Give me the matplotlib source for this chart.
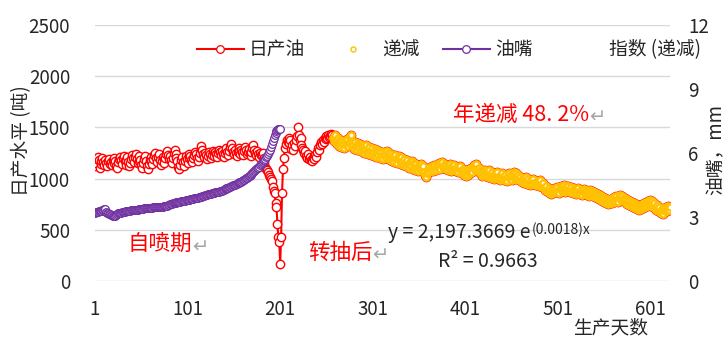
import numpy as np
import matplotlib
matplotlib.use("Agg")
import matplotlib.pyplot as plt
from matplotlib.lines import Line2D

plt.rcParams["font.family"] = ["Noto Sans CJK SC", "DejaVu Sans"]
plt.rcParams["axes.unicode_minus"] = False

# 日产油（吨），第 1 天起逐日读数
oil = [
    1120, 1150, 1190, 1210, 1180, 1100, 1140, 1170, 1200, 1160, 1130, 1180, 1150, 1120, 1170, 1190, 1140, 1160, 1130, 1180,
    1200, 1150, 1170, 1120, 1100, 1160, 1190, 1210, 1180, 1140, 1200, 1220, 1170, 1130, 1180, 1210, 1160, 1120, 1150, 1190,
    1230, 1200, 1160, 1210, 1240, 1190, 1150, 1170, 1220, 1180, 1130, 1100, 1150, 1190, 1220, 1170, 1120, 1090, 1140, 1180,
    1210, 1170, 1140, 1190, 1230, 1250, 1200, 1160, 1210, 1240, 1180, 1130, 1170, 1210, 1190, 1150, 1200, 1240, 1270, 1230,
    1190, 1220, 1180, 1150, 1200, 1250, 1280, 1240, 1200, 1170, 1110, 1090, 1130, 1180, 1210, 1160, 1120, 1170, 1220, 1190,
    1150, 1200, 1240, 1220, 1180, 1160, 1200, 1230, 1260, 1240, 1200, 1170, 1210, 1250, 1290, 1320, 1280, 1240, 1210, 1250,
    1230, 1190, 1220, 1260, 1240, 1200, 1230, 1270, 1250, 1220, 1260, 1240, 1210, 1250, 1280, 1260, 1230, 1270, 1240, 1210,
    1250, 1280, 1300, 1260, 1230, 1270, 1310, 1340, 1300, 1260, 1240, 1280, 1250, 1220, 1260, 1300, 1270, 1240, 1280, 1260,
    1230, 1270, 1310, 1280, 1240, 1260, 1290, 1250, 1220, 1260, 1300, 1330, 1280, 1250, 1230, 1270, 1240, 1210, 1250, 1230,
    # 转抽前后的停产段
    1230, 1250, 1200, 1160, 1110, 1090, 1080, 1060, 1040, 1020, 1000, 980, 920, 880, 860, 760, 720, 560, 430, 380,
    165, 430, 860, 1090, 1200,
    1300, 1340, 1380, 1360, 1400, 1350, 1380, 1290, 1330, 1280, 1350, 1320, 1380, 1420, 1500, 1430, 1380, 1400, 1330, 1300,
    1280, 1250, 1270, 1220, 1200, 1240, 1190, 1210, 1180, 1170, 1200, 1220, 1190, 1230, 1210, 1260, 1300, 1280, 1330, 1360,
    1340, 1380, 1360, 1400, 1390, 1420, 1400, 1430, 1410, 1420, 1440, 1430,
    # 递减段（第 258 天起）
    1400, 1370, 1430, 1360, 1340, 1400, 1350, 1320, 1380, 1310, 1370, 1340, 1300, 1370, 1330, 1390, 1320, 1350, 1410, 1350,
    1430, 1360, 1330, 1290, 1360, 1310, 1280, 1350, 1300, 1340, 1270, 1330, 1290, 1250, 1320, 1280, 1330, 1260, 1240, 1310,
    1260, 1230, 1300, 1250, 1220, 1290, 1240, 1210, 1280, 1230, 1270, 1200, 1260, 1220, 1190, 1260, 1230, 1200, 1270, 1220,
    1190, 1250, 1180, 1240, 1170, 1220, 1160, 1230, 1190, 1150, 1200, 1220, 1170, 1140, 1210, 1160, 1130, 1190, 1150, 1120,
    1180, 1130, 1100, 1160, 1120, 1170, 1090, 1150, 1110, 1080, 1140, 1100, 1070, 1130, 1090, 1140, 1070, 1120, 1060, 1040,
    1030, 1020, 1050, 1090, 1060, 1110, 1080, 1120, 1070, 1130, 1090, 1080, 1130, 1100, 1150, 1110, 1090, 1140, 1160, 1110,
    1100, 1140, 1090, 1130, 1080, 1120, 1140, 1090, 1070, 1120, 1080, 1130, 1090, 1070, 1110, 1060, 1100, 1120, 1070, 1050,
    1090, 1040, 1080, 1050, 1030, 1080, 1040, 1090, 1050, 1100, 1060, 1110, 1130, 1080, 1120, 1140, 1090, 1070, 1100, 1050,
    1080, 1030, 1070, 1040, 1080, 1030, 1070, 1020, 1060, 1080, 1030, 1010, 1060, 1020, 1000, 1050, 1010, 1060, 1020, 1000,
    990, 1040, 1000, 1050, 1010, 990, 1040, 1000, 980, 1030, 1050, 1000, 1040, 990, 1030, 1060, 1020, 1000, 1050, 1010,
    1040, 990, 1020, 980, 970, 1010, 960, 1000, 1020, 970, 950, 1000, 960, 940, 990, 950, 1000, 960, 940, 970,
    940, 980, 930, 970, 990, 940, 920, 960, 910, 890, 930, 880, 870, 910, 860, 850, 890, 860, 900, 870,
    910, 870, 920, 880, 860, 910, 930, 880, 920, 940, 890, 870, 920, 880, 930, 890, 870, 920, 880, 860,
    910, 870, 850, 900, 860, 910, 870, 850, 890, 840, 880, 900, 850, 890, 840, 880, 830, 870, 890, 840,
    880, 830, 870, 820, 860, 810, 850, 800, 840, 790, 830, 780, 820, 770, 810, 760, 800, 750, 790, 760,
    800, 760, 810, 770, 820, 780, 830, 790, 770, 820, 840, 790, 830, 800, 780, 810, 760, 800, 750, 790,
    740, 780, 730, 770, 720, 760, 710, 750, 700, 740, 730, 690, 740, 700, 750, 710, 760, 720, 770, 730,
    780, 740, 790, 750, 730, 780, 720, 760, 710, 690, 740, 680, 720, 670, 660, 700, 650, 690, 710, 680,
    720, 680, 730, 690, 720,
]

# 油嘴（mm），第 1 天到第 201 天
choke = [
    3.20, 3.22, 3.25, 3.24, 3.27, 3.26, 3.28, 3.30, 3.32, 3.35, 3.38, 3.36, 3.25, 3.20, 3.18, 3.15, 3.12, 3.10, 3.08, 3.06,
    3.05, 3.04, 3.06, 3.10, 3.14, 3.17, 3.18, 3.20, 3.21, 3.22, 3.24, 3.25, 3.25, 3.26, 3.27, 3.28, 3.28, 3.29, 3.30, 3.31,
    3.32, 3.32, 3.33, 3.33, 3.34, 3.35, 3.35, 3.36, 3.36, 3.37, 3.38, 3.38, 3.39, 3.40, 3.40, 3.41, 3.41, 3.42, 3.42, 3.43,
    3.43, 3.44, 3.44, 3.45, 3.45, 3.46, 3.46, 3.47, 3.47, 3.48, 3.48, 3.48, 3.49, 3.49, 3.50, 3.50, 3.51, 3.52, 3.53, 3.55,
    3.57, 3.59, 3.61, 3.62, 3.64, 3.65, 3.66, 3.67, 3.68, 3.69, 3.70, 3.71, 3.72, 3.73, 3.74, 3.75, 3.76, 3.77, 3.78, 3.79,
    3.80, 3.81, 3.82, 3.83, 3.84, 3.85, 3.86, 3.87, 3.88, 3.89, 3.90, 3.91, 3.92, 3.94, 3.95, 3.96, 3.97, 3.99, 4.00, 4.02,
    4.03, 4.05, 4.06, 4.08, 4.09, 4.10, 4.11, 4.12, 4.13, 4.14, 4.15, 4.16, 4.17, 4.18, 4.19, 4.20, 4.22, 4.24, 4.26, 4.28,
    4.30, 4.32, 4.34, 4.36, 4.38, 4.40, 4.42, 4.44, 4.46, 4.48, 4.50, 4.52, 4.54, 4.56, 4.58, 4.60, 4.62, 4.64, 4.66, 4.69,
    4.72, 4.75, 4.78, 4.81, 4.84, 4.87, 4.90, 4.93, 4.97, 5.02, 5.08, 5.12, 5.16, 5.20, 5.24, 5.28, 5.32, 5.36, 5.42, 5.48,
    5.53, 5.58, 5.63, 5.68, 5.74, 5.80, 5.86, 5.94, 6.04, 6.14, 6.26, 6.40, 6.55, 6.70, 6.84, 6.94, 7.04, 7.10, 7.12, 7.12,
    7.12,
]

decline_start = 258  # 递减段起始天
x_ticks = [1, 101, 201, 301, 401, 501, 601]
left_ticks = [0, 500, 1000, 1500, 2000, 2500]
right_ticks = [0, 3, 6, 9, 12]

RED = "#FF0000"
ORANGE = "#FFC000"
PURPLE = "#7030A0"
GRID = "#D9D9D9"
ARROW = "#A6A6A6"
INK = "#262626"

oil = np.array(oil)
days = np.arange(1, len(oil) + 1)
choke_days = np.arange(1, len(choke) + 1)
mask = days >= decline_start

fig = plt.figure(figsize=(7.28, 3.4), dpi=100)
ax = fig.add_axes([95 / 728, 59 / 340, 575 / 728, 256 / 340])
ax2 = ax.twinx()

ax.plot(days, oil, color=RED, lw=1.5, marker="o", ms=6, mfc="white", mec=RED, mew=1.0, zorder=3)
ax.plot(days[mask], oil[mask], ls="none", marker="o", ms=4.5, mfc="white", mec=ORANGE, mew=1.8, zorder=4)
ax2.plot(choke_days, choke, color=PURPLE, lw=1.5, marker="o", ms=5.5, mfc="white", mec=PURPLE, mew=0.9, zorder=3)

ax.set_xlim(1, len(oil))
ax.set_ylim(0, 2500)
ax2.set_ylim(0, 12)
ax.set_xticks(x_ticks)
ax.set_yticks(left_ticks)
ax2.set_yticks(right_ticks)
ax.grid(axis="y", color=GRID, lw=1)
ax.set_axisbelow(True)
for a in (ax, ax2):
    for s in a.spines.values():
        s.set_visible(False)
ax.tick_params(axis="both", length=0, labelsize=13.5, colors=INK)
ax.tick_params(axis="y", pad=18)
ax.tick_params(axis="x", pad=13)
ax2.tick_params(axis="y", length=0, labelsize=13.5, colors=INK, pad=13)

fig.text(0.030, 0.585, "日产水平 (吨)", rotation=90, ha="center", va="center", fontsize=13.5, color=INK)
fig.text(0.983, 0.56, "油嘴，mm", rotation=90, ha="center", va="center", fontsize=13.5, color=INK)
fig.text(0.838, 0.035, "生产天数", ha="center", va="center", fontsize=13.5, color=INK)


def note(x, y, s, size=15.5):
    t = ax.text(x, y, s, color=RED, fontsize=size, ha="left", va="center")
    ax.annotate("↵", xy=(1, 0.4), xycoords=t, ha="left", va="center",
                color=ARROW, fontsize=14, family=["DejaVu Sans"])
    return t


note(388, 1621, "年递减 48. 2%")
note(36, 352, "自喷期")
note(231, 273, "转抽后")

eq = ax.text(317, 469, "y = 2,197.3669 e", fontsize=14, color=INK, ha="left", va="center")
ax.annotate("(0.0018)x", xy=(1, 1), xycoords=eq, xytext=(1, 0), textcoords="offset points",
            ha="left", va="top", fontsize=10, color=INK)
ax.text(371, 186, "R² = 0.9663", fontsize=14, color=INK, ha="left", va="center")

handles = [
    Line2D([], [], color=RED, lw=1.5, marker="o", ms=5.5, mfc="white", mec=RED, mew=0.9),
    Line2D([], [], ls="none", marker="o", ms=3.6, mfc="white", mec=ORANGE, mew=1.0),
    Line2D([], [], color=PURPLE, lw=1.5, marker="o", ms=5.5, mfc="white", mec=PURPLE, mew=0.9),
    Line2D([], [], color="none"),
]
labels = ["日产油", "递减", "油嘴", "指数 (递减)"]
fig.legend(handles, labels, loc="center", bbox_to_anchor=(449 / 728, 1 - 50 / 340), ncol=4,
           frameon=False, fontsize=13.5, handlelength=2.5, handletextpad=0.3, columnspacing=1.27,
           labelcolor=INK)

fig.savefig("out.png", dpi=100)
